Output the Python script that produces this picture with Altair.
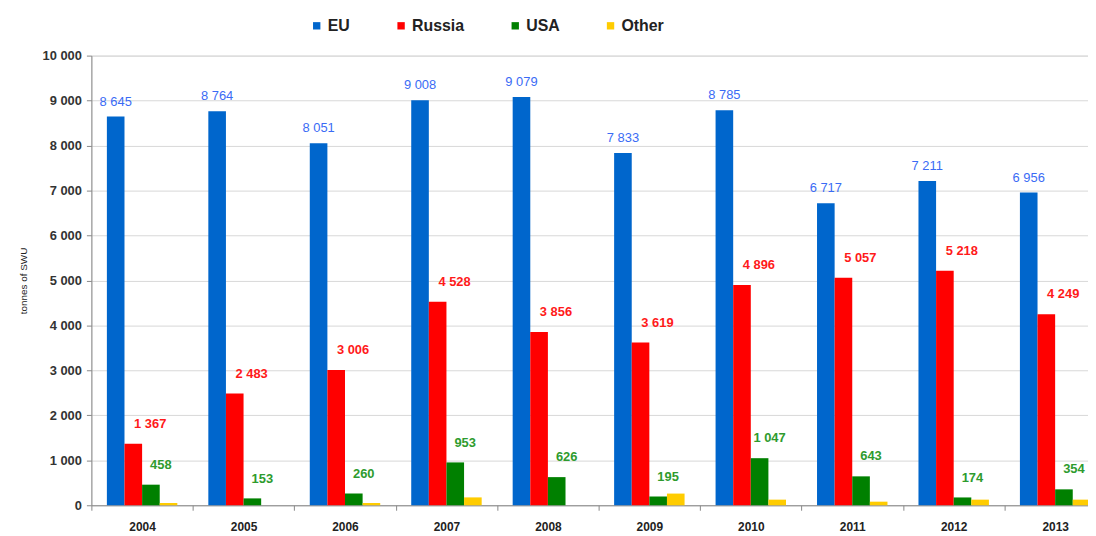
import altair as alt
import pandas as pd

years = ["2004", "2005", "2006", "2007", "2008", "2009", "2010", "2011", "2012", "2013"]
series = ["EU", "Russia", "USA", "Other"]
eu = [8645, 8764, 8051, 9008, 9079, 7833, 8785, 6717, 7211, 6956]
russia = [1367, 2483, 3006, 4528, 3856, 3619, 4896, 5057, 5218, 4249]
usa = [458, 153, 260, 953, 626, 195, 1047, 643, 174, 354]
other = [50, 0, 50, 175, 0, 260, 125, 80, 125, 125]

bar_colors = ["#0066CC", "#FF0000", "#008000", "#FFCC00"]
label_colors = {"EU": "#3A6BF5", "Russia": "#FF1A1A", "USA": "#2E9B2E"}

rows = []
for name, vals in zip(series, [eu, russia, usa, other]):
    for y, v in zip(years, vals):
        rows.append({"year": y, "series": name, "value": v})
df = pd.DataFrame(rows)

FONT = "Liberation Sans"

x_enc = alt.X("year:N", sort=years, title=None,
              scale=alt.Scale(paddingInner=0, paddingOuter=0, range=[0, 1022]),
              axis=alt.Axis(labelFont=FONT, labelFontWeight="bold", labelFontSize=12,
                            labelColor="#222", labelAngle=0, labelPadding=11,
                            tickBand="extent", tickSize=5, tickColor="#888",
                            domainColor="#888", grid=False))
xo_enc = alt.XOffset("series:N", sort=series,
                     scale=alt.Scale(paddingInner=0, paddingOuter=0.88))
y_enc = alt.Y("value:Q", title="tonnes of SWU",
              scale=alt.Scale(domain=[0, 10000], nice=False),
              axis=alt.Axis(values=list(range(0, 10001, 1000)),
                            labelExpr="replace(format(datum.value, ','), ',', ' ')",
                            labelFont=FONT, labelFontWeight="bold", labelFontSize=13,
                            labelColor="#333", labelPadding=5,
                            tickSize=5, tickColor="#888", domainColor="#888",
                            gridColor="#d8d8d8", grid=True,
                            titleFont=FONT, titleFontSize=10, titleFontWeight="normal",
                            titleColor="#222", titlePadding=14))

bars = alt.Chart(df).mark_bar().encode(
    x=x_enc,
    xOffset=xo_enc,
    y=y_enc,
    color=alt.Color("series:N", sort=series,
                    scale=alt.Scale(domain=series, range=bar_colors),
                    legend=alt.Legend(title=None, orient="none", direction="horizontal",
                                      legendX=219, legendY=-38,
                                      symbolType="square", symbolSize=55,
                                      symbolStrokeWidth=0,
                                      labelFont=FONT, labelFontWeight="bold",
                                      labelFontSize=16, labelColor="#222",
                                      labelOffset=3, columnPadding=43)),
)

layers = [bars]
offsets = {"EU": (0, -15, "normal"), "Russia": (17, -20, "bold"), "USA": (10, -20, "bold")}
for name in ["EU", "Russia", "USA"]:
    dx, dy, fw = offsets[name]
    t = alt.Chart(df).transform_filter(
        alt.datum.series == name
    ).transform_calculate(
        label="replace(format(datum.value, ','), ',', ' ')"
    ).mark_text(
        font=FONT, fontSize=13, fontWeight=fw, color=label_colors[name],
        dx=dx, dy=dy, baseline="middle", align="center"
    ).encode(
        x=alt.X("year:N", sort=years),
        xOffset=alt.XOffset("series:N", sort=series),
        y=alt.Y("value:Q"),
        text="label:N",
    )
    layers.append(t)

chart = alt.layer(*layers).properties(
    width=1004, height=453,
    autosize=alt.AutoSizeParams(type="none"),
    padding={"left": 84, "top": 46, "right": 0, "bottom": 28},
).configure_view(stroke=None).configure(background="white")

chart.save("out.html", embed_options={"renderer": "svg", "actions": False})
